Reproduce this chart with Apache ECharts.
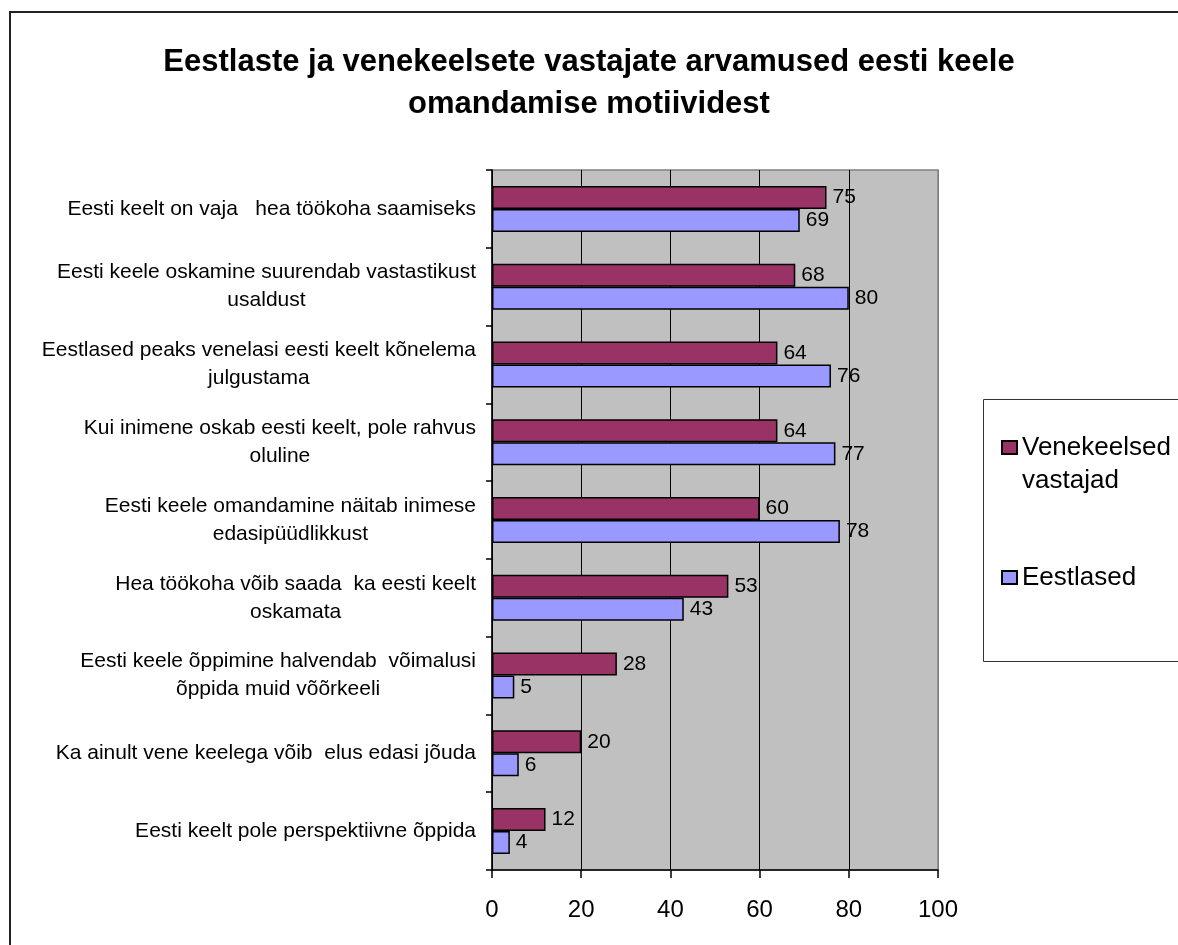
<!DOCTYPE html>
<html>
<head>
<meta charset="utf-8">
<title>Eesti keele omandamise motiivid</title>
<script src="https://cdn.jsdelivr.net/npm/echarts@6/dist/echarts.min.js"></script>
<style>
  html, body { margin: 0; padding: 0; background: #fff; }
  #chart { width: 1178px; height: 945px; }
</style>
</head>
<body>
<div id="chart"></div>
<script>
// Survey statements (top to bottom)
const categories = [
  'Eesti keelt on vaja   hea töökoha saamiseks',
  'Eesti keele oskamine suurendab vastastikust\nusaldust',
  'Eestlased peaks venelasi eesti keelt kõnelema\njulgustama',
  'Kui inimene oskab eesti keelt, pole rahvus\noluline',
  'Eesti keele omandamine näitab inimese\nedasipüüdlikkust',
  'Hea töökoha võib saada  ka eesti keelt\noskamata',
  'Eesti keele õppimine halvendab  võimalusi\nõppida muid võõrkeeli',
  'Ka ainult vene keelega võib  elus edasi jõuda',
  'Eesti keelt pole perspektiivne õppida'
];

const seriesNames = ['Venekeelsed vastajad', 'Eestlased'];

// Share of agreeing respondents, %
const venekeelsed = [75, 68, 64, 64, 60, 53, 28, 20, 12];
const eestlased = [69, 80, 76, 77, 78, 43, 5, 6, 4];

const xTicks = [0, 20, 40, 60, 80, 100];

const FONT = '"Liberation Sans", Arial, Helvetica, sans-serif';
const chart = echarts.init(document.getElementById('chart'));

const barStyle = (color) => ({
  color: color,
  borderColor: '#000',
  borderWidth: 1.5
});

const valueLabel = {
  show: true,
  position: 'right',
  distance: 6,
  color: '#000',
  fontFamily: FONT,
  fontSize: 21
};

const legendText = {
  color: '#000',
  fontFamily: FONT,
  fontSize: 26,
  lineHeight: 33
};

chart.setOption({
  backgroundColor: '#fff',
  animation: false,
  title: {
    text: 'Eestlaste ja venekeelsete vastajate arvamused eesti keele\nomandamise motiividest',
    left: 'center',
    top: 36,
    textStyle: {
      fontFamily: FONT,
      fontSize: 31,
      fontWeight: 'bold',
      color: '#000',
      lineHeight: 42
    }
  },
  graphic: [
    {
      type: 'rect',
      shape: { x: 10, y: 12, width: 1220, height: 1000 },
      style: { fill: 'none', stroke: '#222', lineWidth: 2 },
      silent: true
    },
    {
      type: 'rect',
      shape: { x: 983.5, y: 399.5, width: 260, height: 262 },
      style: { fill: '#fff', stroke: '#333', lineWidth: 1 },
      silent: true,
      z: -1
    }
  ],
  legend: [
    {
      data: [seriesNames[0]],
      orient: 'vertical',
      left: 1001,
      top: 398,
      padding: 0,
      itemWidth: 15,
      itemHeight: 13,
      itemGap: 0,
      icon: 'rect',
      formatter: () => '\nVenekeelsed\nvastajad',
      textStyle: legendText,
      selectedMode: false
    },
    {
      data: [seriesNames[1]],
      orient: 'vertical',
      left: 1001,
      top: 561,
      padding: 0,
      itemWidth: 15,
      itemHeight: 13,
      icon: 'rect',
      textStyle: legendText,
      selectedMode: false
    }
  ],
  grid: {
    left: 492,
    top: 170,
    width: 446,
    height: 700,
    show: true,
    backgroundColor: '#C0C0C0',
    borderColor: '#808080',
    borderWidth: 1.5,
    containLabel: false,
    outerBoundsMode: 'none'
  },
  xAxis: {
    type: 'value',
    min: xTicks[0],
    max: xTicks[xTicks.length - 1],
    interval: xTicks[1] - xTicks[0],
    axisLine: { show: true, lineStyle: { color: '#000', width: 1.5 } },
    axisTick: { show: true, inside: false, length: 8, lineStyle: { color: '#000', width: 1.5 } },
    axisLabel: {
      color: '#000',
      fontFamily: FONT,
      fontSize: 24,
      margin: 28
    },
    splitLine: {
      show: true,
      lineStyle: { color: ['#000', '#000', '#000', '#000', '#000', '#808080'], width: 1 }
    }
  },
  yAxis: {
    type: 'category',
    data: categories,
    inverse: true,
    axisLine: { show: true, lineStyle: { color: '#000', width: 1.5 } },
    axisTick: { show: true, inside: false, length: 6, lineStyle: { color: '#000', width: 1.5 } },
    axisLabel: {
      margin: 16,
      align: 'right',
      formatter: (v) => v.split('\n').map((l) => '{c|' + l + '}').join('\n'),
      rich: {
        c: {
          align: 'center',
          color: '#000',
          fontFamily: FONT,
          fontSize: 21,
          lineHeight: 28
        }
      }
    },
    splitLine: { show: false }
  },
  series: [
    {
      name: seriesNames[0],
      type: 'bar',
      data: venekeelsed,
      barWidth: 23,
      barGap: '0%',
      itemStyle: barStyle('#993366'),
      label: valueLabel
    },
    {
      name: seriesNames[1],
      type: 'bar',
      data: eestlased,
      barWidth: 23,
      barGap: '0%',
      itemStyle: barStyle('#9999FF'),
      label: valueLabel
    }
  ]
});
</script>
</body>
</html>
